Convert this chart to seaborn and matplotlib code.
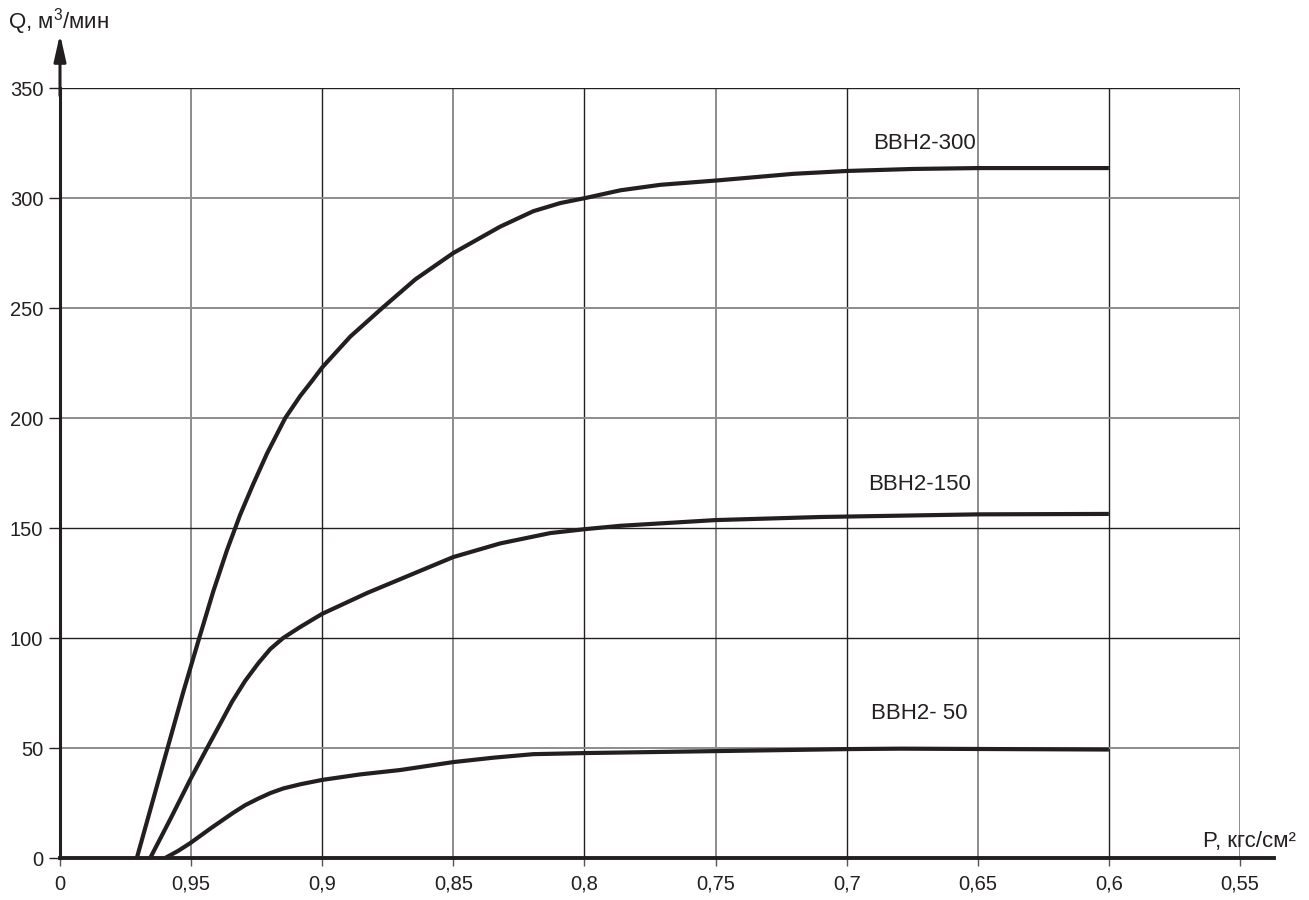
import matplotlib
matplotlib.use("Agg")
import matplotlib.pyplot as plt
import seaborn as sns
import pandas as pd

# ---- data ----
series_names = ["BBH2-300", "BBH2-150", "BBH2- 50"]

p_300 = [0.9707, 0.9618, 0.9531, 0.9469, 0.9416, 0.9363, 0.9313, 0.9263, 0.9210,
         0.9141, 0.9084, 0.9038, 0.9000, 0.8893, 0.8771, 0.8645, 0.8500, 0.8321,
         0.8195, 0.8092, 0.7996, 0.7863, 0.7710, 0.7492, 0.7202, 0.6996, 0.6748,
         0.6500, 0.6000]
q_300 = [0, 38, 75, 100, 121, 140, 156, 170, 184,
         200, 210, 217, 223, 237, 250, 263, 275, 287,
         294, 297.7, 300, 303.5, 306, 308, 311, 312.3, 313.2,
         313.6, 313.6]

p_150 = [0.9656, 0.9580, 0.9504, 0.9439, 0.9389, 0.9344, 0.9294, 0.9244, 0.9198,
         0.9149, 0.9084, 0.9000, 0.8828, 0.8637, 0.8500, 0.8321, 0.8130, 0.7996,
         0.7863, 0.7500, 0.7099, 0.6500, 0.6000]
q_150 = [0, 17.5, 35.5, 50, 61, 71, 80.5, 88.5, 95,
         100, 105, 111, 120.5, 130, 136.8, 143, 147.7, 149.5,
         151, 153.6, 155, 156.2, 156.4]

p_50 = [0.9599, 0.9550, 0.9504, 0.9424, 0.9340, 0.9294, 0.9244, 0.9198, 0.9149,
        0.9084, 0.9000, 0.8855, 0.8702, 0.8500, 0.8347, 0.8195, 0.7996, 0.7492,
        0.6996, 0.6794, 0.6000]
q_50 = [0, 3.2, 6.7, 13.6, 20.5, 24, 27, 29.5, 31.6,
        33.5, 35.5, 38, 40, 43.6, 45.6, 47.2, 47.7, 48.6,
        49.5, 49.7, 49.3]

x_ticks = [1.0, 0.95, 0.9, 0.85, 0.8, 0.75, 0.7, 0.65, 0.6, 0.55]
x_tick_labels = ["0", "0,95", "0,9", "0,85", "0,8", "0,75", "0,7", "0,65", "0,6", "0,55"]
y_ticks = [0, 50, 100, 150, 200, 250, 300, 350]
y_tick_labels = ["0", "50", "100", "150", "200", "250", "300", "350"]

# label anchors (right edge, vertical centre) for each curve
label_p = [0.6508, 0.6527, 0.6538]
label_q = [325, 170, 65.5]

x_label = "P, кгс/см²"
y_label = "Q, м$^3$/мин"

# ---- styling ----
sns.set_theme(style="white")
plt.rcParams['font.family'] = ['Liberation Sans', 'DejaVu Sans']
plt.rcParams['mathtext.fontset'] = 'custom'
plt.rcParams['mathtext.rm'] = 'Liberation Sans'
plt.rcParams['mathtext.default'] = 'regular'
ink = "#231f20"
grey = "#8c8c8c"

df = pd.concat([
    pd.DataFrame({"P": p_300, "Q": q_300, "series": series_names[0]}),
    pd.DataFrame({"P": p_150, "Q": q_150, "series": series_names[1]}),
    pd.DataFrame({"P": p_50, "Q": q_50, "series": series_names[2]}),
], ignore_index=True)

fig = plt.figure(figsize=(13.09, 9.0), dpi=100)
ax = fig.add_axes([60 / 1309, 42 / 900, 1180 / 1309, 770 / 900])

sns.lineplot(data=df, x="P", y="Q", hue="series",
             palette={n: ink for n in series_names},
             linewidth=3.0, legend=False, estimator=None, ax=ax,
             solid_joinstyle="round", solid_capstyle="butt")

ax.set_xlim(1.0, 0.55)
ax.set_ylim(0, 350)
ax.set_xticks(x_ticks)
ax.set_xticklabels(x_tick_labels)
ax.set_yticks(y_ticks)
ax.set_yticklabels(y_tick_labels)
ax.set_xlabel("")
ax.set_ylabel("")

ax.set_axisbelow(True)
ax.grid(True, linewidth=1.0)
x_black = [False, False, True, False, True, False, True, False, True, False]
for gl, b in zip(ax.get_xgridlines(), x_black):
    gl.set_color(ink if b else grey)
    gl.set_linewidth(1.0 if b else 1.4)
y_black = [False, False, True, True, False, False, False, True]
for gl, b in zip(ax.get_ygridlines(), y_black):
    gl.set_color(ink if b else grey)
    gl.set_linewidth(1.0 if b else 1.4)

ax.tick_params(axis='x', which='both', bottom=True, direction='out', length=6,
               width=1.0, color="#555555", pad=6, labelsize=14.5, labelcolor=ink)
ax.tick_params(axis='y', which='both', left=True, direction='out', length=8,
               width=1.0, color=ink, pad=4, labelsize=14.5, labelcolor=ink)

for s in ["top", "right"]:
    ax.spines[s].set_visible(False)
ax.spines["left"].set_color(ink)
ax.spines["left"].set_linewidth(2.2)
ax.spines["bottom"].set_color(ink)
ax.spines["bottom"].set_linewidth(2.8)
ax.spines["bottom"].set_bounds(1.0, 0.537)

# y axis arrow
ax.annotate("", xy=(0, 1.07), xytext=(0, 0.99), xycoords="axes fraction",
            textcoords="axes fraction",
            arrowprops=dict(arrowstyle="-|>,head_length=0.8,head_width=0.18",
                            lw=2.2, color=ink, mutation_scale=20, shrinkA=0, shrinkB=0))

for name, lp, lq in zip(series_names, label_p, label_q):
    ax.text(lp, lq, name, ha="right", va="center", fontsize=16, color=ink)

fig.text(8 / 1309, 1 - 22 / 900, y_label, ha="left", va="center", fontsize=16, color=ink)
fig.text(1296 / 1309, 1 - 841 / 900, x_label, ha="right", va="center", fontsize=16, color=ink)

fig.savefig("out.png", dpi=100)
